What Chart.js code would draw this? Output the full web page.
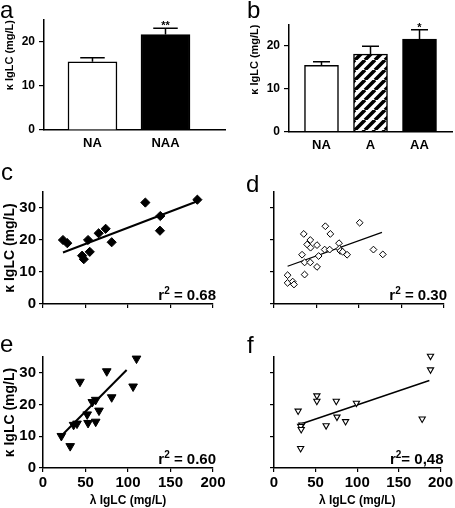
<!DOCTYPE html>
<html lang="en">
<head>
<meta charset="UTF-8">
<title>kappa / lambda IgLC</title>
<script src="https://cdn.jsdelivr.net/npm/chart.js"></script>
<style>
  body { margin: 0; background: #fff; width: 455px; height: 508px; position: relative; overflow: hidden;
         font-family: 'Liberation Sans', Arial, sans-serif; }
  canvas { position: absolute; }
  .letter { position: absolute; font-size: 24px; line-height: 24px; color: #000; }
</style>
</head>
<body>
<canvas id="panelA" width="230" height="160" style="left:0;top:0"></canvas>
<canvas id="panelB" width="230" height="160" style="left:225px;top:0"></canvas>
<canvas id="panelC" width="230" height="170" style="left:0;top:160px"></canvas>
<canvas id="panelD" width="230" height="170" style="left:225px;top:160px"></canvas>
<canvas id="panelE" width="230" height="178" style="left:0;top:330px"></canvas>
<canvas id="panelF" width="230" height="178" style="left:225px;top:330px"></canvas>

<div class="letter" style="left:0;top:-2px">a</div>
<div class="letter" style="left:247px;top:-2px">b</div>
<div class="letter" style="left:1px;top:160px">c</div>
<div class="letter" style="left:246px;top:172px">d</div>
<div class="letter" style="left:0;top:332px">e</div>
<div class="letter" style="left:247px;top:333px">f</div>

<script>
// a: NA vs NAA
const groupsA = ['NA', 'NAA'];
const meanA = [15.5, 21.7];
const semA = [0.9, 1.4];
const starsA = ['', '**'];

// b: NA / A / AA
const groupsB = ['NA', 'A', 'AA'];
const meanB = [15.5, 18.1, 21.6];
const semB = [0.8, 1.8, 2.2];
const starsB = ['', '', '*'];

// c-f: lambda (x) against kappa (y), mg/L
const cLambda = [23.5, 28.6, 46, 48, 53, 55, 65.5, 73.7, 80.8, 120.4, 137.6, 138, 181.6];
const cKappa  = [20, 19, 15.1, 14, 20, 16.3, 22.1, 23.5, 19.3, 31.7, 22.9, 27.5, 32.6];
const cFitX = [23.5, 181.6];
const cFitY = [16.1, 32.1];

const dLambda = [16, 16, 22, 23.5, 33, 35, 36, 36, 39, 42.7, 43, 42.7, 50.6, 50.6, 52.5, 59.6,
                 60.4, 65.5, 66.3, 76.5, 77, 78, 80.8, 86, 100.8, 117, 128];
const dKappa  = [9, 6.6, 7, 6.1, 15.4, 21.9, 13, 9.2, 18.6, 20, 17.6, 13, 18.4, 11.6, 15, 17,
                 24.3, 17, 21.9, 19, 17.3, 16.6, 16.3, 15.4, 25.4, 17, 15.5];
const dFitX = [16, 127];
const dFitY = [11.8, 22.4];

const eLambda = [21.6, 32, 36, 40, 43.5, 52, 53, 58, 62, 62, 65.9, 75, 80.8, 106, 110];
const eKappa  = [10.1, 6.9, 13.6, 14, 27.2, 16.9, 14.2, 20.8, 21.5, 14.6, 18.1, 30.5, 22.3, 25.7, 34.5];
const eFitX = [24.3, 98.4];
const eFitY = [10.9, 30.9];

const fLambda = [29, 33.5, 32, 32.7, 32, 51.5, 51.5, 62.6, 74.8, 75.6, 86, 99, 178, 188, 188];
const fKappa  = [18, 13.6, 13.2, 12.2, 6.2, 22.8, 21.1, 13.4, 21.1, 16.1, 14.7, 20.5, 15.5, 35.3, 31];
const fFitX = [32.3, 186.6];
const fFitY = [13.9, 27.6];

const yTitle = 'κ IgLC (mg/L)';
const xTitle = 'λ IgLC (mg/L)';

Chart.defaults.font.family = "'Liberation Sans', Arial, sans-serif";
Chart.defaults.color = '#000';
Chart.defaults.animation = false;

const axisLine = { color: '#000', width: 1.5 };
function tickMarks(len) {
  return { display: true, drawOnChartArea: false, drawTicks: true, tickLength: len, color: '#000', lineWidth: 1.2 };
}

// diagonal hatch for the "A" bar
function hatch() {
  const c = document.createElement('canvas');
  c.width = 10; c.height = 10;
  const g = c.getContext('2d');
  g.fillStyle = '#fff';
  g.fillRect(0, 0, 10, 10);
  g.strokeStyle = '#000';
  g.lineWidth = 3.6;
  g.beginPath();
  for (const k of [-10, 0, 10]) {
    g.moveTo(k, 10); g.lineTo(k + 10, 0);
  }
  g.stroke();
  return g.createPattern(c, 'repeat');
}

// upper SEM whisker + significance stars
const errorBars = {
  id: 'errorBars',
  afterDatasetsDraw(chart) {
    const ctx = chart.ctx;
    const y = chart.scales.y;
    chart.data.datasets.forEach((ds, di) => {
      if (!ds.errors) return;
      chart.getDatasetMeta(di).data.forEach((bar, i) => {
        const top = y.getPixelForValue(ds.data[i].y + ds.errors[i]);
        const half = bar.width / 4;
        ctx.save();
        ctx.strokeStyle = '#000';
        ctx.lineWidth = 1.5;
        ctx.beginPath();
        ctx.moveTo(bar.x, bar.y);
        ctx.lineTo(bar.x, top);
        ctx.moveTo(bar.x - half, top);
        ctx.lineTo(bar.x + half, top);
        ctx.stroke();
        if (ds.stars[i]) {
          ctx.fillStyle = '#000';
          ctx.font = "bold 11px 'Liberation Sans', Arial, sans-serif";
          ctx.textAlign = 'center';
          ctx.textBaseline = 'alphabetic';
          ctx.fillText(ds.stars[i], bar.x, top + 1);
        }
        ctx.restore();
      });
    });
  }
};

// "r2 = x" in the lower right corner
function r2Label(rest) {
  return {
    id: 'r2Label',
    afterDraw(chart) {
      const { ctx, chartArea } = chart;
      const big = "bold 15px 'Liberation Sans', Arial, sans-serif";
      const small = "bold 10px 'Liberation Sans', Arial, sans-serif";
      ctx.save();
      ctx.fillStyle = '#000';
      ctx.textBaseline = 'alphabetic';
      ctx.textAlign = 'left';
      ctx.font = big;
      const wr = ctx.measureText('r').width;
      const wrest = ctx.measureText(rest).width;
      ctx.font = small;
      const w2 = ctx.measureText('2').width;
      const base = chartArea.bottom - 4;
      let x = chartArea.right + 3 - (wr + w2 + wrest);
      ctx.font = big;
      ctx.fillText('r', x, base);
      ctx.font = small;
      ctx.fillText('2', x + wr, base - 6);
      ctx.font = big;
      ctx.fillText(rest, x + wr + w2, base);
      ctx.restore();
    }
  };
}

function barPanel(id, groups, means, sems, stars, fills, box) {
  new Chart(document.getElementById(id), {
    type: 'bar',
    data: {
      datasets: [{
        data: means.map((m, i) => ({ x: i + 1, y: m })),
        errors: sems,
        stars: stars,
        backgroundColor: fills,
        borderColor: '#000',
        borderWidth: 1.5,
        barThickness: box.thickness
      }]
    },
    options: {
      responsive: false,
      layout: { padding: { top: box.top, right: box.right, left: box.left, bottom: 0 } },
      plugins: { legend: { display: false }, tooltip: { enabled: false } },
      scales: {
        x: {
          type: 'linear', min: box.min, max: box.max, offset: false,
          afterBuildTicks: s => { s.ticks = groups.map((g, i) => ({ value: i + 1 })); },
          ticks: { callback: v => groups[v - 1], font: { size: 13, weight: 'bold' }, padding: 6, autoSkip: false, maxRotation: 0 },
          grid: { display: false, drawTicks: false, offset: false },
          border: axisLine,
          afterFit: s => { s.height = box.xHeight; }
        },
        y: {
          min: 0, max: 25,
          ticks: { stepSize: 10, includeBounds: false, font: { size: 12, weight: 'bold' }, padding: 4 },
          grid: tickMarks(5),
          border: axisLine,
          title: { display: true, text: yTitle, align: 'end', font: { size: 11, weight: 'bold' }, padding: { top: 3.5, bottom: 0 } },
          afterFit: s => { s.width = box.yWidth; }
        }
      }
    },
    plugins: [errorBars]
  });
}

function scatterPanel(id, xs, ys, fitX, fitY, marker, box, rest) {
  new Chart(document.getElementById(id), {
    type: 'scatter',
    data: {
      datasets: [{
        data: xs.map((x, i) => ({ x: x, y: ys[i] })),
        pointStyle: marker.style,
        rotation: marker.rotation,
        radius: marker.radius,
        backgroundColor: marker.fill,
        borderColor: '#000',
        borderWidth: marker.border,
        clip: false
      }, {
        type: 'line',
        data: fitX.map((x, i) => ({ x: x, y: fitY[i] })),
        borderColor: '#000',
        borderWidth: box.fitWidth,
        pointRadius: 0,
        fill: false,
        clip: false
      }]
    },
    options: {
      responsive: false,
      layout: { padding: { top: box.top, right: box.right, left: 0, bottom: 0 } },
      plugins: { legend: { display: false }, tooltip: { enabled: false } },
      scales: {
        x: {
          type: 'linear', min: 0, max: 200,
          ticks: { stepSize: 50, display: box.xLabels, font: { size: 15, weight: 'bold' }, padding: 2, maxRotation: 0 },
          grid: tickMarks(4),
          border: axisLine,
          title: { display: box.xLabels, text: xTitle, font: { size: 12, weight: 'bold' }, padding: { top: 0, bottom: 0 } },
          afterFit: s => { s.height = box.xHeight; }
        },
        y: {
          min: 0, max: 35,
          ticks: { stepSize: 10, includeBounds: false, display: box.yLabels, font: { size: 15, weight: 'bold' }, padding: 3 },
          grid: tickMarks(4),
          border: axisLine,
          title: { display: box.yLabels, text: yTitle, font: { size: 14, weight: 'bold' }, padding: { top: 2, bottom: 0 } },
          afterFit: s => { s.width = box.yWidth; }
        }
      }
    },
    plugins: [r2Label(rest)]
  });
}

barPanel('panelA', groupsA, meanA, semA, starsA, ['#fff', '#000'],
  { left: 0, yWidth: 44, top: 20, right: 5, xHeight: 30, min: 0.336, max: 2.815, thickness: 49 });
barPanel('panelB', groupsB, meanB, semB, starsB, ['#fff', hatch(), '#000'],
  { left: 20, yWidth: 44, top: 24.5, right: 3, xHeight: 28.3, min: 0.337, max: 3.663, thickness: 34 });

const diamondFill = { style: 'rectRot', rotation: 0, radius: 4.6, fill: '#000', border: 1 };
const diamondOpen = { style: 'rectRot', rotation: 0, radius: 3.4, fill: '#fff', border: 1 };
const triFill = { style: 'triangle', rotation: 180, radius: 5, fill: '#000', border: 1 };
const triOpen = { style: 'triangle', rotation: 180, radius: 3.6, fill: '#fff', border: 1.1 };

scatterPanel('panelC', cLambda, cKappa, cFitX, cFitY, diamondFill,
  { yWidth: 43, top: 32, right: 17, xHeight: 26, xLabels: false, yLabels: true, fitWidth: 2 }, ' = 0.68');
scatterPanel('panelD', dLambda, dKappa, dFitX, dFitY, diamondOpen,
  { yWidth: 49, top: 32, right: 11, xHeight: 26, xLabels: false, yLabels: false, fitWidth: 1.3 }, ' = 0.30');
scatterPanel('panelE', eLambda, eKappa, eFitX, eFitY, triFill,
  { yWidth: 43, top: 27, right: 17, xHeight: 40, xLabels: true, yLabels: true, fitWidth: 2 }, ' = 0.60');
scatterPanel('panelF', fLambda, fKappa, fFitX, fFitY, triOpen,
  { yWidth: 49, top: 27, right: 12, xHeight: 40, xLabels: true, yLabels: false, fitWidth: 1.5 }, '= 0,48');
</script>
</body>
</html>
